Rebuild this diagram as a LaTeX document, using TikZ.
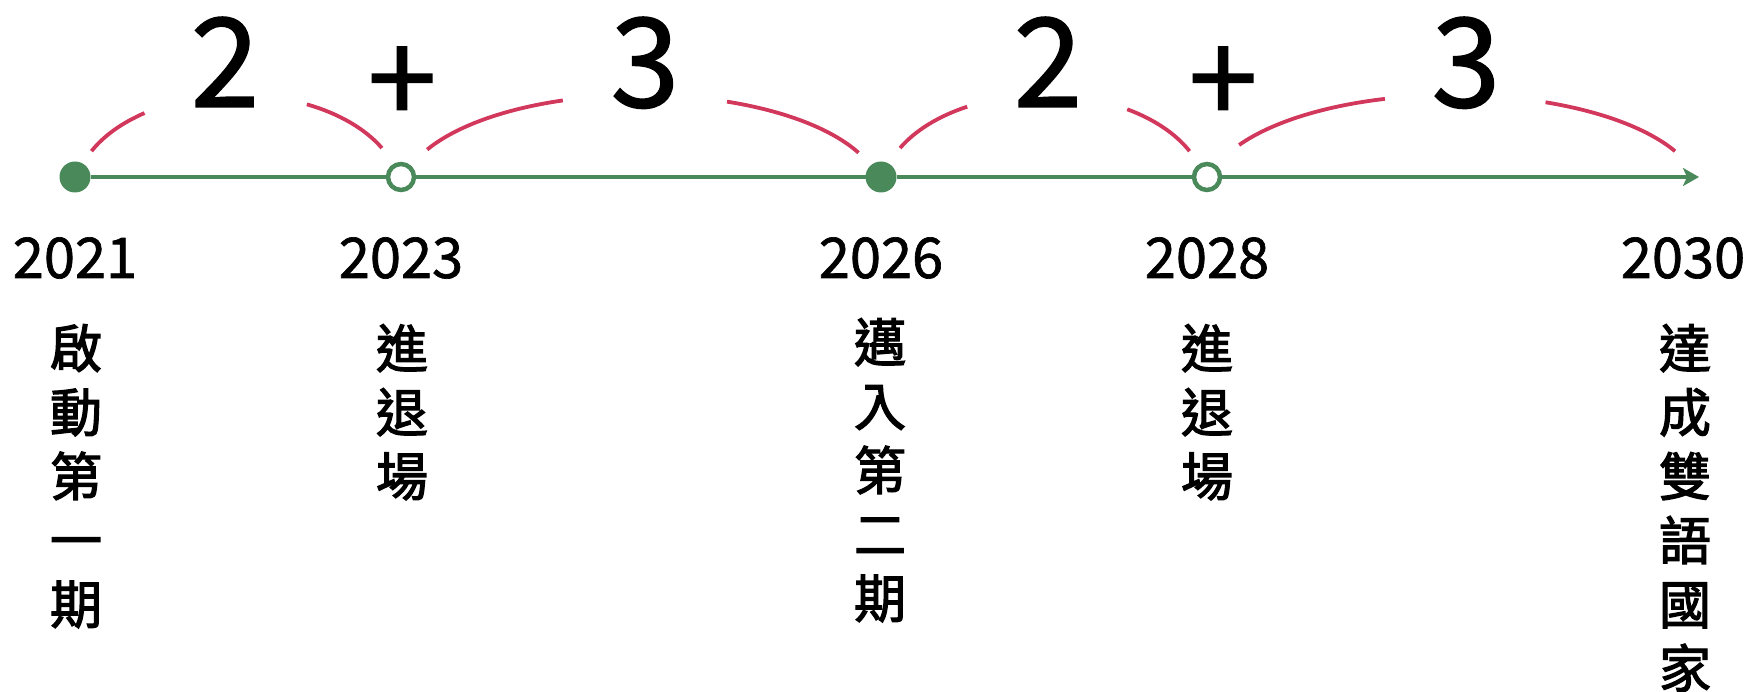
\documentclass[tikz,border=0pt]{standalone}
\usepackage{fontspec}
\setmainfont{Noto Sans CJK TC}
\newfontfamily\digitfont[FakeBold=1.2]{Noto Sans CJK TC}
\newfontfamily\cjkfont[FakeBold=2.4]{Noto Sans CJK TC}
\usetikzlibrary{arrows.meta,calc}
\definecolor{tlgreen}{RGB}{74,138,90}
\definecolor{tlred}{RGB}{210,56,92}
\begin{document}
\begin{tikzpicture}[x=1pt,y=-1pt,
  axisline/.style={draw=tlgreen,line width=4.5pt},
  fulldot/.style={circle,fill=tlgreen,minimum size=31pt,inner sep=0pt,outer sep=0pt},
  opendot/.style={circle,draw=tlgreen,fill=white,line width=4.5pt,minimum size=26pt,inner sep=0pt},
  yearlbl/.style={font=\digitfont\fontsize{56}{56}\selectfont,inner sep=0pt},
  bignum/.style={font=\digitfont\fontsize{124}{124}\selectfont,inner sep=0pt,text height=90pt,text depth=0pt,anchor=base},
  vlabel/.style={font=\cjkfont\fontsize{52}{64}\selectfont,align=center,inner sep=0pt,anchor=north},
  bracearc/.style={draw=tlred,line width=3.8pt}]
\useasboundingbox (0,0) rectangle (1750,692);
% timeline points
\node[fulldot] (d1) at (75,177) {};
\node[opendot] (d2) at (401,177) {};
\node[fulldot] (d3) at (881,177) {};
\node[opendot] (d4) at (1207,177) {};
\coordinate (tip) at (1699,177);
\draw[axisline] (d1) -- (d2);
\draw[axisline] (d2) -- (d3);
\draw[axisline] (d3) -- (d4);
\draw[axisline,-{Stealth[length=16pt,width=18pt,inset=4pt]}] (d4) -- (tip);
% arcs
\coordinate (c1) at (238,195);
\coordinate (c2) at (641,195);
\coordinate (c3) at (1043.5,195);
\coordinate (c4) at (1453,195);
\draw[bracearc] (c1) ++(154:163pt and 100pt) arc[start angle=154,end angle=125,x radius=163pt,y radius=100pt];
\draw[bracearc] (c1) ++(65:163pt and 100pt) arc[start angle=65,end angle=28,x radius=163pt,y radius=100pt];
\draw[bracearc] (c2) ++(153:240pt and 100pt) arc[start angle=153,end angle=109,x radius=240pt,y radius=100pt];
\draw[bracearc] (c2) ++(69:240pt and 100pt) arc[start angle=69,end angle=25,x radius=240pt,y radius=100pt];
\draw[bracearc] (c3) ++(152:162.5pt and 100pt) arc[start angle=152,end angle=118,x radius=162.5pt,y radius=100pt];
\draw[bracearc] (c3) ++(59:162.5pt and 100pt) arc[start angle=59,end angle=26,x radius=162.5pt,y radius=100pt];
\draw[bracearc] (c4) ++(150:247pt and 100pt) arc[start angle=150,end angle=106,x radius=247pt,y radius=100pt];
\draw[bracearc] (c4) ++(68:247pt and 100pt) arc[start angle=68,end angle=26,x radius=247pt,y radius=100pt];
% big numbers
\node[bignum] (n1) at (225,107) {2};
\node[bignum] (p1) at (402,124) {+};
\node[bignum] (n2) at (645,107) {3};
\node[bignum] (n3) at (1048,107) {2};
\node[bignum] (p2) at (1223,124) {+};
\node[bignum] (n4) at (1466,107) {3};
% years
\node[yearlbl] (y1) at (75,258) {2021};
\node[yearlbl] (y2) at (401,258) {2023};
\node[yearlbl] (y3) at (881,258) {2026};
\node[yearlbl] (y4) at (1207,258) {2028};
\node[yearlbl] (y5) at (1683,258) {2030};
% vertical labels
\node[vlabel] (t1) at (76,324) {啟\\動\\第\\一\\期};
\node[vlabel] (t2) at (402,324) {進\\退\\場};
\node[vlabel] (t3) at (880,318) {邁\\入\\第\\二\\期};
\node[vlabel] (t4) at (1207,324) {進\\退\\場};
\node[vlabel] (t5) at (1685,324) {達\\成\\雙\\語\\國\\家};
\end{tikzpicture}
\end{document}
